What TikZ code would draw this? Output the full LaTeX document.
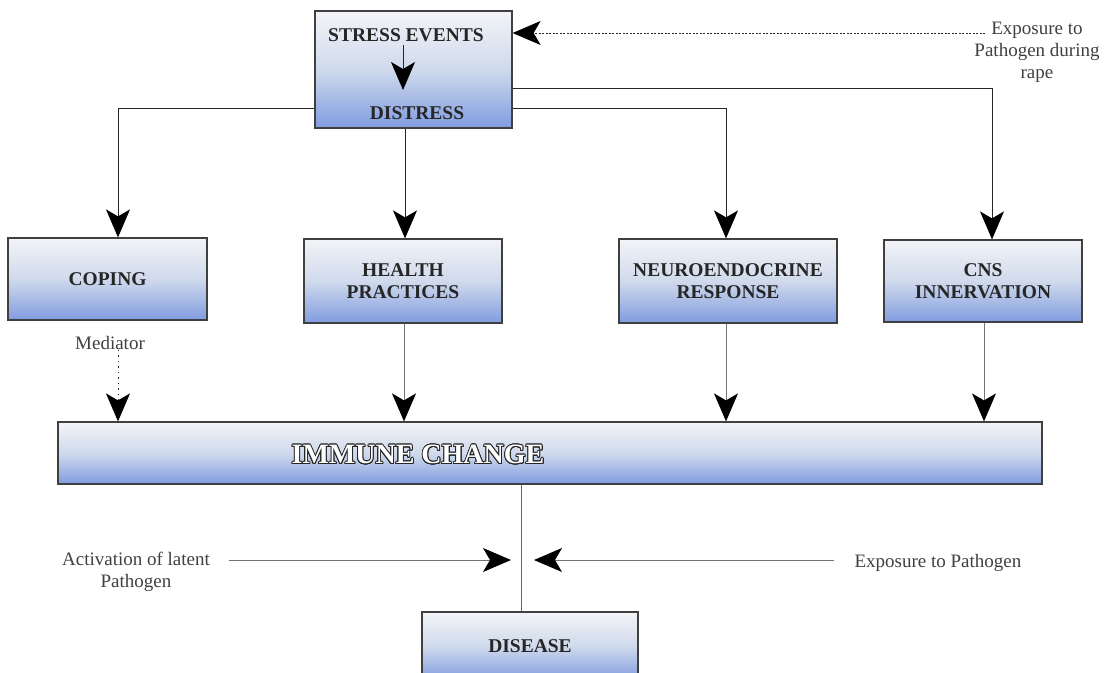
\documentclass[tikz,border=0pt]{standalone}
\usepackage{fontspec}
\setmainfont{Liberation Serif}
\usepackage{contour}
\contourlength{0.9pt}
\usetikzlibrary{arrows.meta}
\definecolor{boxtop}{RGB}{242,244,247}
\definecolor{boxmid}{RGB}{208,218,236}
\definecolor{boxbot}{RGB}{128,156,224}
\tikzset{
  blk/.style={draw=black!75, line width=1.2pt, inner sep=0pt,
    top color=boxtop, bottom color=boxbot, middle color=boxmid},
  boxtext/.style={font=\fontsize{19.5}{22}\selectfont\bfseries, align=center, text=black!85},
  box/.style={blk, boxtext},
  lbl/.style={font=\fontsize{19}{22}\selectfont, align=center, text=black!75, inner sep=0pt},
  arr/.style={-{Stealth[length=28pt,width=24pt,inset=7pt,color=black]}, line width=1pt, draw=black!85},
  arrg/.style={arr, draw=black!55},
  conn/.style={line width=1pt, draw=black!60}
}
\begin{document}
\begin{tikzpicture}[x=1pt,y=-1pt]
\useasboundingbox (0,0) rectangle (1113,672);
% boxes
\node[blk, minimum width=197, minimum height=117] (stress) at (413.5,69.5) {};
\node[boxtext] (se) at (406,35) {STRESS EVENTS};
\node[boxtext] (ds) at (417,113) {DISTRESS};
\node[box, minimum width=199, minimum height=82] (coping) at (107.5,279) {COPING};
\node[box, minimum width=198, minimum height=84] (health) at (403,281) {HEALTH\\PRACTICES};
\node[box, minimum width=218, minimum height=84] (neuro) at (728,281) {NEUROENDOCRINE\\RESPONSE};
\node[box, minimum width=198, minimum height=82] (cns) at (983,281) {CNS\\INNERVATION};
\node[blk, minimum width=984, minimum height=62] (immune) at (550,453) {};
\node[font=\fontsize{28}{30}\selectfont\bfseries, inner sep=0pt] (immlbl) at (418,455)
  {\contour{black!85}{\textcolor{white}{IMMUNE CHANGE}}};
\node[box, minimum width=216, minimum height=68] (disease) at (530,646) {DISEASE};
% labels
\node[lbl] (expo) at (1037,52) {Exposure to\\Pathogen during\\rape};
\node[lbl] (med) at (110,343) {Mediator};
\node[lbl] (act) at (136,572) {Activation of latent\\Pathogen};
\node[lbl] (exp2) at (938,563) {Exposure to Pathogen};
% coordinates for free ends
\coordinate (innertip) at (403,90);
\coordinate (expostart) at (985,33);
\coordinate (actstart) at (229,560);
\coordinate (actend) at (511,560);
\coordinate (expend) at (534,560);
% connectors
\draw[arr] ([xshift=-3pt]se.south) -- (innertip);
\draw[arr] (stress.west |- 0,108) -| ([xshift=10.5pt]coping.north);
\draw[arr] ([xshift=-8.5pt]stress.south) -- ([xshift=2pt]health.north);
\draw[arr] (stress.east |- 0,108) -| ([xshift=-2pt]neuro.north);
\draw[arr] (stress.east |- 0,88) -| ([xshift=9pt]cns.north);
\draw[arr, dash pattern=on 2pt off 1.5pt] (expostart) -- (stress.east |- expostart);
\draw[arr, dash pattern=on 1.5pt off 4pt] ([xshift=8pt]med.south) -- ([xshift=8pt]med.south |- immune.north);
\draw[arrg] ([xshift=1pt]health.south) -- ([xshift=1pt]health.south |- immune.north);
\draw[arrg] ([xshift=-2pt]neuro.south) -- ([xshift=-2pt]neuro.south |- immune.north);
\draw[arrg] ([xshift=1pt]cns.south) -- ([xshift=1pt]cns.south |- immune.north);
\draw[conn] ([xshift=-29pt]immune.south) -- ([xshift=-9pt]disease.north);
\draw[arrg] (actstart) -- (actend);
\draw[arrg] ([xshift=-20pt]exp2.west |- expend) -- (expend);
\end{tikzpicture}
\end{document}
